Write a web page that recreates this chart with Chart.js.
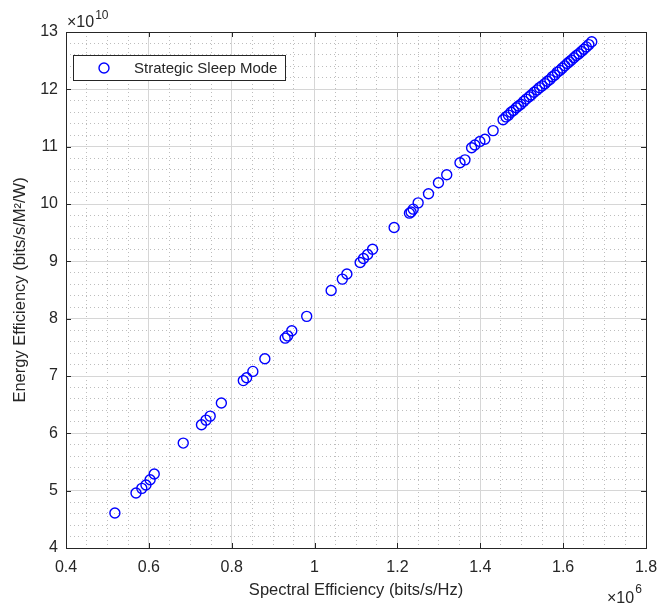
<!DOCTYPE html>
<html>
<head>
<meta charset="utf-8">
<script src="https://cdn.jsdelivr.net/npm/chart.js@4.4.0/dist/chart.umd.min.js"></script>
<style>
  html, body { margin: 0; padding: 0; background: #fff; }
  #wrap { width: 658px; height: 606px; }
</style>
</head>
<body>
<div id="wrap"><canvas id="chart" width="658" height="606"></canvas></div>
<script>
// --- data (x in units of 10^6, y in units of 10^10) ---
const seriesName = 'Strategic Sleep Mode';

const spectralEff = [
    0.518, 0.569, 0.583, 0.593, 0.603, 0.613, 0.683, 0.727, 0.738, 0.748,
    0.775, 0.828, 0.836, 0.851, 0.880, 0.929, 0.935, 0.945, 0.981, 1.040,
    1.067, 1.078, 1.110, 1.118, 1.128, 1.140, 1.192, 1.229, 1.233, 1.238,
    1.250, 1.275, 1.299, 1.319, 1.351, 1.363, 1.379, 1.387, 1.399, 1.411,
    1.431, 1.455, 1.462, 1.468, 1.474, 1.480, 1.487, 1.492, 1.498, 1.505,
    1.511, 1.518, 1.523, 1.530, 1.537, 1.543, 1.549, 1.556, 1.562, 1.568,
    1.574, 1.580, 1.586, 1.592, 1.598, 1.604, 1.610, 1.615, 1.620, 1.626,
    1.632, 1.638, 1.644, 1.650, 1.656, 1.662, 1.669
];

const energyEff = [
    4.61, 4.96, 5.04, 5.10, 5.19, 5.29, 5.83, 6.15, 6.23, 6.30,
    6.53, 6.92, 6.97, 7.08, 7.30, 7.66, 7.70, 7.79, 8.04, 8.49,
    8.69, 8.78, 8.98, 9.05, 9.12, 9.21, 9.59, 9.84, 9.86, 9.91,
    10.02, 10.18, 10.37, 10.51, 10.72, 10.77, 10.98, 11.03, 11.09, 11.13,
    11.28, 11.47, 11.52, 11.55, 11.60, 11.63, 11.68, 11.71, 11.74, 11.79,
    11.83, 11.87, 11.90, 11.95, 11.99, 12.03, 12.06, 12.10, 12.14, 12.17,
    12.22, 12.25, 12.30, 12.33, 12.37, 12.41, 12.45, 12.48, 12.51, 12.55,
    12.59, 12.62, 12.66, 12.70, 12.74, 12.78, 12.83
];

const xTicks = [0.4, 0.6, 0.8, 1, 1.2, 1.4, 1.6, 1.8];
const yTicks = [4, 5, 6, 7, 8, 9, 10, 11, 12, 13];

const xExponent = '6';
const yExponent = '10';

// --- styling ---
const FONT = '"Liberation Sans", Arial, Helvetica, sans-serif';
const INK = '#262626';
const MARKER = '#0000ff';

const isMajorX = v => Math.abs(v * 5 - Math.round(v * 5)) < 1e-6;
const isMajorY = v => Math.abs(v - Math.round(v)) < 1e-6;

// box, inward tick marks, exponent labels, legend
const matlabFrame = {
    id: 'matlabFrame',
    afterDraw(chart) {
        const { ctx, chartArea: a, scales } = chart;
        ctx.save();
        ctx.strokeStyle = INK;
        ctx.lineWidth = 1;
        ctx.strokeRect(Math.round(a.left) + 0.5, Math.round(a.top) + 0.5,
            Math.round(a.right - a.left), Math.round(a.bottom - a.top));

        const tl = 5;
        ctx.beginPath();
        xTicks.forEach(v => {
            const px = Math.round(scales.x.getPixelForValue(v)) + 0.5;
            ctx.moveTo(px, a.bottom); ctx.lineTo(px, a.bottom - tl);
            ctx.moveTo(px, a.top); ctx.lineTo(px, a.top + tl);
        });
        yTicks.forEach(v => {
            const py = Math.round(scales.y.getPixelForValue(v)) + 0.5;
            ctx.moveTo(a.left, py); ctx.lineTo(a.left + tl, py);
            ctx.moveTo(a.right, py); ctx.lineTo(a.right - tl, py);
        });
        ctx.stroke();

        // exponent labels
        ctx.fillStyle = INK;
        ctx.textBaseline = 'alphabetic';
        ctx.textAlign = 'left';
        ctx.font = '16px ' + FONT;
        ctx.fillText('\u00d710', a.left + 1, a.top - 5);
        let w = ctx.measureText('\u00d710').width;
        ctx.font = '12px ' + FONT;
        ctx.fillText(yExponent, a.left + 2 + w, a.top - 13);

        ctx.font = '16px ' + FONT;
        w = ctx.measureText('\u00d710').width;
        ctx.fillText('\u00d710', a.right - 39, a.bottom + 55);
        ctx.font = '12px ' + FONT;
        ctx.fillText(xExponent, a.right - 38 + w, a.bottom + 45);

        // legend box
        const lx = 73, ly = 55, lw = 212, lh = 25;
        ctx.fillStyle = '#fff';
        ctx.fillRect(lx, ly, lw, lh);
        ctx.strokeStyle = INK;
        ctx.lineWidth = 1;
        ctx.strokeRect(lx + 0.5, ly + 0.5, lw, lh);
        ctx.strokeStyle = MARKER;
        ctx.lineWidth = 1.4;
        ctx.beginPath();
        ctx.arc(lx + 31, ly + 13, 5, 0, Math.PI * 2);
        ctx.stroke();
        ctx.fillStyle = INK;
        ctx.font = '15px ' + FONT;
        ctx.textBaseline = 'middle';
        ctx.fillText(chart.data.datasets[0].label, lx + 61, ly + 14);
        ctx.restore();
    }
};

const points = spectralEff.map((x, i) => ({ x: x, y: energyEff[i] }));

new Chart(document.getElementById('chart'), {
    type: 'scatter',
    data: {
        datasets: [{
            label: seriesName,
            data: points,
            pointStyle: 'circle',
            pointRadius: 5,
            pointHoverRadius: 5,
            borderWidth: 1.4,
            borderColor: MARKER,
            backgroundColor: 'rgba(0,0,0,0)'
        }]
    },
    options: {
        responsive: false,
        animation: false,
        layout: { padding: { top: 32, right: 12, left: 0, bottom: 0 } },
        plugins: {
            legend: { display: false },
            tooltip: { enabled: false }
        },
        scales: {
            x: {
                type: 'linear',
                min: 0.4,
                max: 1.8,
                afterFit: s => {
                    s.height = 58;
                    s.paddingLeft = 0;
                    s.paddingRight = 0;
                },
                ticks: {
                    stepSize: 0.05,
                    autoSkip: false,
                    maxRotation: 0,
                    padding: 10,
                    color: INK,
                    font: { family: FONT, size: 16 },
                    callback: v => isMajorX(v) ? String(+v.toFixed(1)) : ''
                },
                grid: {
                    drawTicks: false,
                    color: c => isMajorX(c.tick.value) ? '#d6d6d6' : '#bdbdbd',
                    lineWidth: 1
                },
                border: {
                    display: false,
                    dash: c => isMajorX(c.tick.value) ? [] : [1, 3]
                },
                title: {
                    display: true,
                    text: 'Spectral Efficiency (bits/s/Hz)',
                    color: INK,
                    font: { family: FONT, size: 16.5 },
                    padding: { top: 0, bottom: 6 }
                }
            },
            y: {
                type: 'linear',
                min: 4,
                max: 13,
                afterFit: s => {
                    s.width = 66;
                    s.paddingTop = 0;
                    s.paddingBottom = 0;
                },
                ticks: {
                    stepSize: 0.2,
                    autoSkip: false,
                    padding: 8,
                    color: INK,
                    font: { family: FONT, size: 16 },
                    callback: v => isMajorY(v) ? String(Math.round(v)) : ''
                },
                grid: {
                    drawTicks: false,
                    color: c => isMajorY(c.tick.value) ? '#d6d6d6' : '#bdbdbd',
                    lineWidth: 1
                },
                border: {
                    display: false,
                    dash: c => isMajorY(c.tick.value) ? [] : [1, 3]
                },
                title: {
                    display: true,
                    text: 'Energy Efficiency (bits/s/M\u00b2/W)',
                    color: INK,
                    font: { family: FONT, size: 16.5 },
                    padding: { top: 11, bottom: 0 }
                }
            }
        }
    },
    plugins: [matlabFrame]
});
</script>
</body>
</html>
